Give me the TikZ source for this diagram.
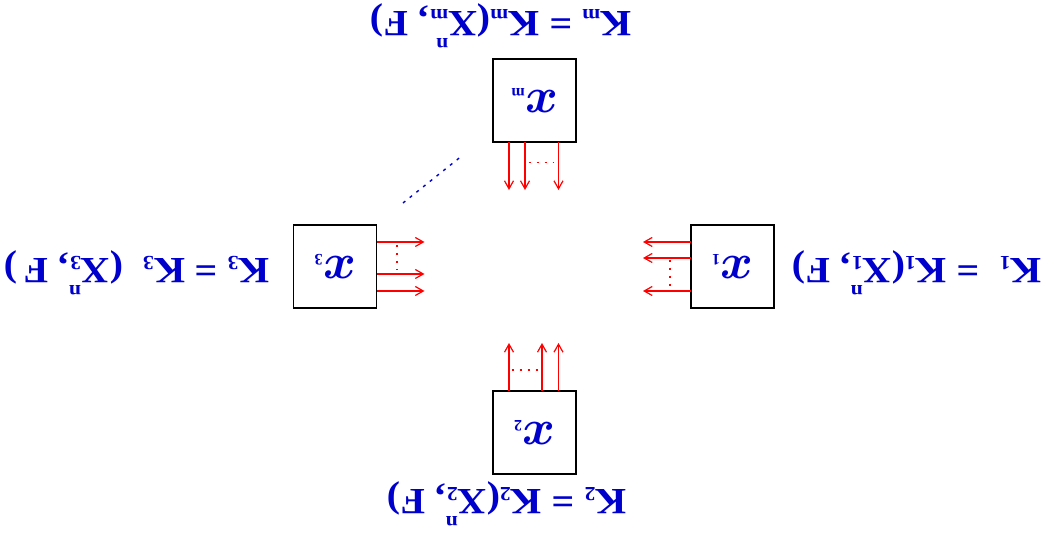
\documentclass[tikz,border=0pt]{standalone}
\usepackage{amsmath,bm}
\usepackage{fontspec}
\setmainfont{Liberation Serif}
\newfontfamily\lblfont{Liberation Serif}[FakeStretch=1.08]
\usetikzlibrary{arrows.meta,calc}
\definecolor{tblue}{RGB}{0,0,205}
\definecolor{tred}{RGB}{255,0,0}
\newcommand\sfs{\fontsize{10}{10}\selectfont\bfseries}
\newcommand\lsub[1]{\raisebox{-1.2pt}{\sfs #1}}
\newcommand\lss[2]{\rlap{\raisebox{13.5pt}{\sfs #2}}\raisebox{-1.2pt}{\sfs #1}\hspace{1pt}}
\newcommand\bsub[1]{\raisebox{-1pt}{\fontsize{8}{8}\selectfont\bfseries #1}}
\tikzset{
 box/.style={draw=black, line width=0.9pt, minimum width=41.5pt, minimum height=41.5pt, inner sep=0pt, rotate=180, text=tblue, font=\fontsize{23}{24}\selectfont},
 lbl/.style={rotate=180, anchor=base, text=tblue, inner sep=0pt, font=\lblfont\fontsize{18.5}{20}\selectfont\bfseries},
 arr/.style={draw=tred, line width=0.6pt, -{Straight Barb[length=4pt,width=4.5pt]}},
 rdots/.style={draw=tred, line width=0.6pt, dash pattern=on 1pt off 3pt},
 bdots/.style={draw=tblue, line width=0.7pt, dash pattern=on 1.5pt off 2.8pt},
}
\begin{document}
\begin{tikzpicture}[x=0.5pt,y=-0.5pt]
\useasboundingbox (0,0) rectangle (1051,533);
% boxes
\node[box] (bm) at (534.5,100.5) {$\bm{x}$\bsub{m}};
\node[box] (b2) at (534.5,432.5) {$\bm{x}$\bsub{2}};
\node[box] (b3) at (335,266.5) {$\bm{x}$\bsub{3}};
\node[box] (b1) at (732.5,266.5) {$\bm{x}$\bsub{1}};
% labels
\node[lbl] (lm) at (501,12) {K\lsub{m} = K\lsub{m}(X\lss{m}{n}, F)};
\node[lbl] (l1) at (917,259) {K\lsub{1}\ \ = K\lsub{1}(X\lss{1}{n}, F)};
\node[lbl] (l3) at (137,259) {K\lsub{3} = K\lsub{3}\ \ (X\lss{3}{n}, F\,)};
\node[lbl] (l2) at (507,490) {K\lsub{2} = K\lsub{2}(X\lss{2}{n}, F)};
% top box arrows (downwards)
\draw[arr] ($(bm.center)+(-25.5,41.5)$) -- ++(0,48);
\draw[arr] ($(bm.center)+(-9.5,41.5)$) -- ++(0,48);
\draw[arr] ($(bm.center)+(24,41.5)$) -- ++(0,48);
\draw[rdots] ($(bm.center)+(-6,62)$) -- ++(25,0);
% bottom box arrows (upwards)
\draw[arr] ($(b2.center)+(-25.5,-41.5)$) -- ++(0,-48);
\draw[arr] ($(b2.center)+(7.5,-41.5)$) -- ++(0,-48);
\draw[arr] ($(b2.center)+(24,-41.5)$) -- ++(0,-48);
\draw[rdots] ($(b2.center)+(-23,-62.5)$) -- ++(26,0);
% left box arrows (rightwards)
\draw[arr] ($(b3.center)+(41.5,-24.5)$) -- ++(48,0);
\draw[arr] ($(b3.center)+(41.5,7.5)$) -- ++(48,0);
\draw[arr] ($(b3.center)+(41.5,24.5)$) -- ++(48,0);
\draw[rdots] ($(b3.center)+(62,-21.5)$) -- ++(0,25);
% right box arrows (leftwards)
\draw[arr] ($(b1.center)+(-41.5,-24.5)$) -- ++(-48,0);
\draw[arr] ($(b1.center)+(-41.5,-8.5)$) -- ++(-48,0);
\draw[arr] ($(b1.center)+(-41.5,24.5)$) -- ++(-48,0);
\draw[rdots] ($(b1.center)+(-62.5,-6)$) -- ++(0,26);
% blue dotted diagonal
\coordinate (d1) at (403,203);
\coordinate (d2) at (463,155);
\draw[bdots] (d1) -- (d2);
\end{tikzpicture}
\end{document}
